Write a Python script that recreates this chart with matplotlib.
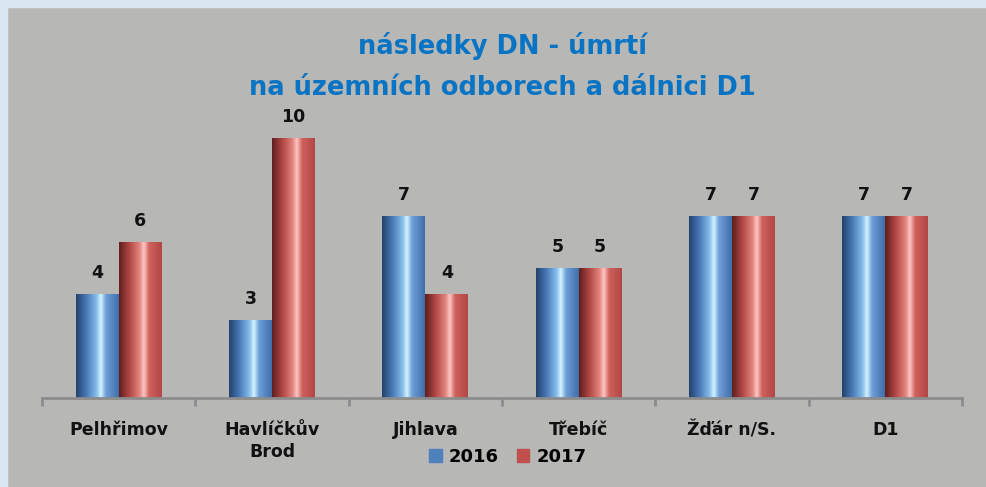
import numpy as np
import matplotlib
matplotlib.use("Agg")
import matplotlib.pyplot as plt
from matplotlib.colors import LinearSegmentedColormap
from matplotlib.patches import Rectangle, Patch

# data
kategorie = ["Pelhřimov", "Havlíčkův\nBrod", "Jihlava", "Třebíč", "Žďár n/S.", "D1"]
rok_2016 = [4, 3, 7, 5, 7, 7]
rok_2017 = [6, 10, 4, 5, 7, 7]
roky = ["2016", "2017"]

modra = LinearSegmentedColormap.from_list("modra", [
    (0.0, "#22426c"), (0.25, "#4a7bb8"), (0.48, "#86bdec"),
    (0.58, "#d6f4ff"), (0.7, "#6d9fd8"), (1.0, "#3f6ea9")])
cervena = LinearSegmentedColormap.from_list("cervena", [
    (0.0, "#5e1e1e"), (0.25, "#b24845"), (0.48, "#e3857f"),
    (0.58, "#ffc8c6"), (0.7, "#d0615d"), (1.0, "#b14745")])

fig = plt.figure(figsize=(9.86, 4.87), dpi=100)
fig.patch.set_facecolor("#b7b7b5")
# svetle modry okraj vlevo a nahore
fig.patches.append(Rectangle((0, 0), 7 / 986, 1, transform=fig.transFigure,
                             color="#dbe8f4", zorder=0))
fig.patches.append(Rectangle((0, 1 - 7 / 487), 1, 7 / 487, transform=fig.transFigure,
                             color="#dbe8f4", zorder=0))

ax = fig.add_axes([42 / 986, 89 / 487, 920 / 986, 312 / 487])
ax.set_facecolor("none")

x = np.arange(len(kategorie))
w = 0.28
grad = np.linspace(0, 1, 256).reshape(1, -1)

for hodnoty, posun, cmap in [(rok_2016, -w / 2, modra), (rok_2017, w / 2, cervena)]:
    bars = ax.bar(x + posun, hodnoty, width=w, color="none", edgecolor="none", zorder=2)
    for b, v in zip(bars, hodnoty):
        x0 = b.get_x()
        im = ax.imshow(grad, cmap=cmap, aspect="auto", zorder=3,
                       extent=[x0, x0 + w, 0, v], interpolation="bicubic")
        im.set_clip_path(b)
        ax.text(x0 + w / 2, v + 0.45, str(v), ha="center", va="bottom",
                fontsize=12.5, fontweight="bold", color="#111111", zorder=4)

ax.set_xlim(-0.5, len(kategorie) - 0.5)
ax.set_ylim(0, 12)
ax.set_yticks([])
for s in ["top", "right", "left"]:
    ax.spines[s].set_visible(False)
ax.spines["bottom"].set_color("#8c8c8c")
ax.spines["bottom"].set_linewidth(2)
ax.spines["bottom"].set_zorder(5)

ax.set_xticks(np.arange(len(kategorie) + 1) - 0.5)
ax.set_xticklabels([])
ax.tick_params(axis="x", length=6, width=2, color="#8c8c8c", direction="out")
for i, k in enumerate(kategorie):
    ax.text(i, -0.9, k, ha="center", va="top", fontsize=12.5, fontweight="bold",
            color="#111111", linespacing=1.25)

fig.text(0.51, 0.905, "následky DN - úmrtí", ha="center", va="center",
         fontsize=18.5, fontweight="bold", color="#0a74c4")
fig.text(0.51, 0.82, "na územních odborech a dálnici D1", ha="center", va="center",
         fontsize=18.5, fontweight="bold", color="#0a74c4")

handles = [Patch(color="#4f81bd"), Patch(color="#c0504d")]
fig.legend(handles, roky, loc="center", bbox_to_anchor=(0.515, 0.062), ncol=2,
           frameon=False, prop={"weight": "bold", "size": 13},
           handlelength=0.7, handleheight=0.7, handletextpad=0.4, columnspacing=1.0)

fig.savefig("out.png", dpi=100, facecolor=fig.get_facecolor())
